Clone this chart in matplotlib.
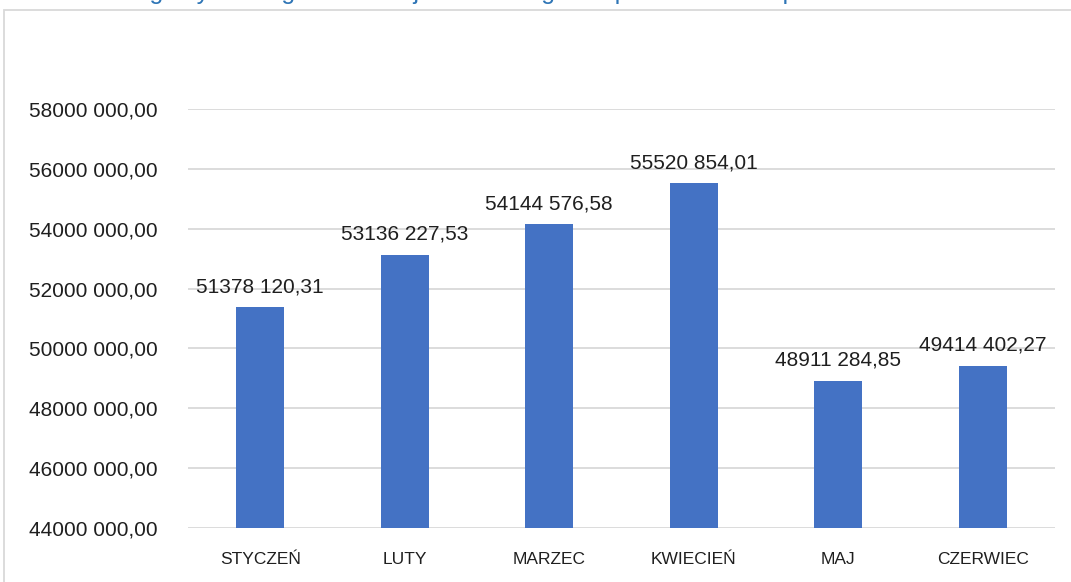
import numpy as np
import matplotlib
matplotlib.use("Agg")
import matplotlib.pyplot as plt
from matplotlib.patches import Rectangle

miesiace = ["STYCZEŃ", "LUTY", "MARZEC", "KWIECIEŃ", "MAJ", "CZERWIEC"]
wartosci = [51378120.31, 53136227.53, 54144576.58, 55520854.01, 48911284.85, 49414402.27]
y_ticks = [44e6, 46e6, 48e6, 50e6, 52e6, 54e6, 56e6, 58e6]
tytul = "Ogólny koszt gazu w całej firmie w regionie pomorskim w I półroczu 2023 r."


def fmt(v):
    # format jak w Excelu: "51378 120,31"
    tys = int(v) // 1000
    reszta = v - tys * 1000
    return f"{tys} {reszta:06.2f}".replace(".", ",")


plt.rcParams['font.family'] = ['Liberation Sans', 'DejaVu Sans']

fig = plt.figure(figsize=(10.71, 5.82), dpi=100)
ax = fig.add_axes([188 / 1071, 1 - 528 / 582, (1055 - 188) / 1071, (528 - 109) / 582])

x = np.arange(len(miesiace))
ax.bar(x, wartosci, width=0.33, color='#4472C4', zorder=3)
for xi, v in zip(x, wartosci):
    ax.annotate(fmt(v), (xi, v), xytext=(0, 8), textcoords='offset points',
                ha='center', va='bottom', fontsize=15, color='#1f1f1f')

ax.set_xlim(-0.5, len(miesiace) - 0.5)
ax.set_ylim(44e6, 58e6)
ax.set_yticks(y_ticks)
ax.set_yticklabels([fmt(t) for t in y_ticks], fontsize=15, color='#1f1f1f')
ax.set_xticks(x)
ax.set_xticklabels(miesiace, fontsize=12.5, color='#1f1f1f')
ax.tick_params(length=0)
ax.tick_params(axis='y', pad=22)
ax.tick_params(axis='x', pad=17)
ax.grid(axis='y', color='#d9d9d9', lw=1.3, zorder=0)
for s in ax.spines.values():
    s.set_visible(False)

# ramka wykresu i uciety tytul (w oryginale widac tylko dolne czesci liter)
fig.patches.append(Rectangle((4 / 1071, -0.05), 1.1, 1.05 - 10 / 582, transform=fig.transFigure,
                             fill=False, edgecolor='#d9d9d9', lw=1.3))
fig.text(545 / 1071, 1 + 1.5 / 582, tytul, ha='center', va='baseline', fontsize=18, color='#2E75B6')

fig.savefig("out.png", dpi=100)
